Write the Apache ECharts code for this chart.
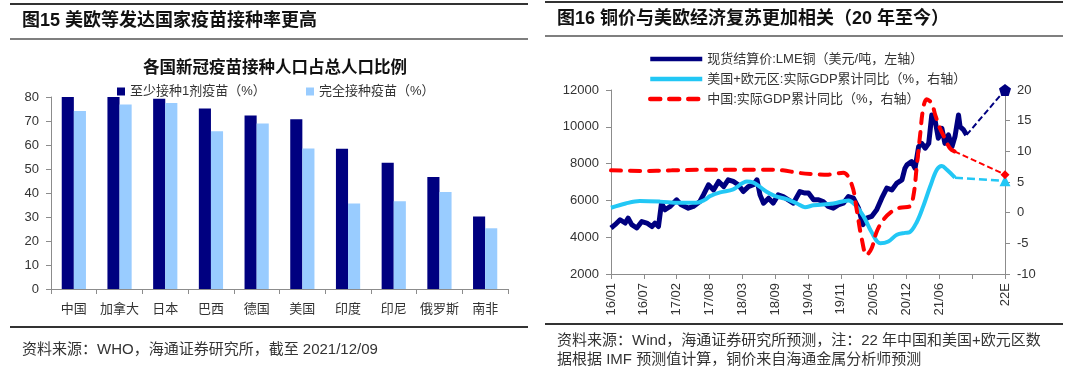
<!DOCTYPE html>
<html>
<head>
<meta charset="utf-8">
<script src="https://cdn.jsdelivr.net/npm/echarts@6/dist/echarts.min.js"></script>
<style>
html, body { margin: 0; padding: 0; background: #fff; }
#chart { width: 1080px; height: 375px; }
</style>
</head>
<body>
<div id="chart"></div>
<script>
// 图15：各国新冠疫苗接种人口占总人口比例
var countries = ['中国', '加拿大', '日本', '巴西', '德国', '美国', '印度', '印尼', '俄罗斯', '南非'];
var dose1 = [80, 80, 79.3, 75.2, 72.3, 70.7, 58.4, 52.6, 46.7, 30.2];
var fullDose = [74.2, 76.9, 77.5, 65.7, 69, 58.5, 35.6, 36.6, 40.4, 25.3];

// 图16：横轴以月计（16/01 = 0），每个刻度 6.5 个月
var xTickLabels = ['16/01', '16/07', '17/02', '17/08', '18/03', '18/09', '19/04', '19/11', '20/05', '20/12', '21/06', '', '22E'];
var monthsPerTick = 6.5;

var copperMonth = [0, 0.8, 1.8, 2.8, 3.4, 4.1, 5.1, 6.1, 7.1, 8.1, 8.7, 9.4, 10, 10.7, 11.7, 13, 13.9, 15.3, 16.3, 17.6,
  18.3, 19.3, 20.3, 21.3, 22.3, 23.2, 24.2, 25.2, 26.2, 27.2, 28.2, 28.9, 29.5, 30.2, 31.2, 32.1, 33.1, 34.1, 35.1, 36.1,
  37.4, 38.4, 39.1, 40.1, 41.1, 42, 43, 44, 45, 46, 47, 48, 49, 49.6, 49.9, 50.6, 51.6, 52.6, 53.6, 54.6,
  55.6, 56.6, 57.6, 58.2, 58.6, 59.5, 60.2, 60.9, 61.5, 62.2, 62.9, 63.5, 64.2, 64.8, 65.5, 66.1, 66.8, 67.5, 68.1, 68.8,
  69.1, 69.8, 70.4];
var copperPrice = [4500, 4680, 4950, 4770, 5040, 4680, 4500, 4850, 4770, 4580, 4770, 4580, 5850, 5490, 5670, 6030, 5760, 5580, 5670, 5940,
  6300, 6850, 6570, 7030, 6750, 7120, 7030, 6850, 6480, 6750, 6850, 7120, 6300, 5850, 6120, 5850, 6300, 6210, 6030, 5850,
  6480, 6400, 6400, 6030, 6030, 5940, 5670, 5580, 5760, 5850, 6210, 6120, 5580, 4950, 4680, 5040, 5130, 5490, 6120, 6670,
  6570, 6940, 7120, 7750, 7930, 8110, 7750, 8920, 9100, 8840, 9100, 10640, 10280, 9380, 9920, 9100, 9560, 8920, 9470, 10640,
  10010, 9830, 9560];

var chinaGdpMonth = [0, 6, 12, 18, 24, 30, 34, 37, 40, 43, 46, 47.7, 48.7, 49.6, 50.6, 51.6, 52.6, 53.9, 55.6, 57.2,
  59.1, 59.9, 60.5, 61.2, 61.8, 62.5, 63.5, 64.2, 65.1, 66.1, 67.1, 68];
var chinaGdp = [6.9, 6.8, 6.9, 7, 7, 7, 6.9, 6.5, 6.3, 6.2, 6.5, 4.5, 0.2, -4.1, -6.9, -5.8, -3.1, -1.2, 0.2, 0.8,
  1.0, 2.9, 7.3, 12.7, 17, 18.5, 17.8, 15.9, 13.8, 12.1, 10.5, 10];

var usEzGdpMonth = [0, 2.9, 5.7, 9.7, 13.6, 16.9, 18.6, 19.6, 21.6, 24.2, 26.9, 28.2, 29.5, 30.8, 32.5, 34.8, 36.8, 38.4,
  40.1, 44, 47, 48.3, 50, 51.6, 53.3, 54.9, 56.6, 58.2, 59.1, 60.5, 61.8, 63.2, 64.5, 65.5, 66.5, 68.1];
var usEzGdp = [0.8, 1.5, 1.9, 1.8, 1.6, 1.6, 2.1, 2.7, 3.3, 3.8, 5.1, 4.9, 4.2, 3.4, 2.7, 2.2, 1.5, 0.9,
  1.2, 1.5, 2.0, 1.3, -0.6, -3.2, -5.0, -4.7, -3.6, -3.3, -3.2, -1.6, 1.0, 4.3, 7.0, 7.6, 7.0, 5.7];

// 22E 预测值
var copper22E = 12000;
var chinaGdp22E = 6.2;
var usEzGdp22E = 5.2;

var FONT = "'Liberation Sans', 'Noto Sans CJK SC', sans-serif";
var AXIS_GRAY = '#8c8c8c';
var x22E = (xTickLabels.length - 1) * monthsPerTick;
var pentagon = 'path://M0,-10L9.5,-3.1L5.9,8.1L-5.9,8.1L-9.5,-3.1Z';

function zip(xs, ys) {
  return xs.map(function (x, i) { return [x, ys[i]]; });
}
function forecast(xs, ys, v, symbol, size) {
  return [
    { value: [xs[xs.length - 1], ys[ys.length - 1]], symbol: 'none' },
    { value: [x22E, v], symbol: symbol, symbolSize: size }
  ];
}
function plain(v) { return String(v); }

var chart = echarts.init(document.getElementById('chart'), null, { renderer: 'canvas' });

var lineStyleGray = { color: AXIS_GRAY, width: 1 };

var option = {
  animation: false,
  textStyle: { fontFamily: FONT },
  title: [
    { text: '图15 美欧等发达国家疫苗接种率更高', left: 22, top: 12, padding: 0,
      textStyle: { fontSize: 18, fontWeight: 'bold', color: '#111', fontFamily: FONT } },
    { text: '各国新冠疫苗接种人口占总人口比例', left: 143, top: 60, padding: 0,
      textStyle: { fontSize: 16.5, fontWeight: 'bold', color: '#111', fontFamily: FONT } },
    { text: '资料来源：WHO，海通证券研究所，截至 2021/12/09', left: 22, top: 342, padding: 0,
      textStyle: { fontSize: 15, fontWeight: 'normal', color: '#333', fontFamily: FONT } },
    { text: '图16 铜价与美欧经济复苏更加相关（20 年至今）', left: 557, top: 10, padding: 0,
      textStyle: { fontSize: 18, fontWeight: 'bold', color: '#111', fontFamily: FONT } },
    { text: '资料来源：Wind，海通证券研究所预测，注：22 年中国和美国+欧元区数\n据根据 IMF 预测值计算，铜价来自海通金属分析师预测', left: 557, top: 331, padding: 0,
      textStyle: { fontSize: 15, fontWeight: 'normal', color: '#333', lineHeight: 19, fontFamily: FONT } }
  ],
  graphic: [
    { type: 'line', shape: { x1: 10, y1: 4, x2: 528, y2: 4 }, style: { stroke: '#333', lineWidth: 2 } },
    { type: 'line', shape: { x1: 10, y1: 39, x2: 528, y2: 39 }, style: { stroke: '#555', lineWidth: 1.5 } },
    { type: 'line', shape: { x1: 10, y1: 327, x2: 528, y2: 327 }, style: { stroke: '#333', lineWidth: 2 } },
    { type: 'line', shape: { x1: 545, y1: 2, x2: 1063, y2: 2 }, style: { stroke: '#333', lineWidth: 2 } },
    { type: 'line', shape: { x1: 545, y1: 36, x2: 1063, y2: 36 }, style: { stroke: '#555', lineWidth: 1.5 } },
    { type: 'line', shape: { x1: 545, y1: 324, x2: 1063, y2: 324 }, style: { stroke: '#333', lineWidth: 2 } }
  ],
  legend: [
    { data: ['至少接种1剂疫苗（%）'], left: 117, top: 85, padding: 0, icon: 'rect', itemWidth: 8, itemHeight: 8,
      textStyle: { fontSize: 13, color: '#333', fontFamily: FONT } },
    { data: ['完全接种疫苗（%）'], left: 306, top: 85, padding: 0, icon: 'rect', itemWidth: 8, itemHeight: 8,
      textStyle: { fontSize: 13, color: '#333', fontFamily: FONT } },
    { data: ['现货结算价:LME铜（美元/吨，左轴）', '美国+欧元区:实际GDP累计同比（%，右轴）', '中国:实际GDP累计同比（%，右轴）'],
      orient: 'vertical', left: 648, top: 52, padding: 0, itemWidth: 52, itemHeight: 14, itemGap: 6,
      lineStyle: { width: 4.5 },
      itemStyle: { opacity: 0, borderWidth: 0 },
      textStyle: { fontSize: 13, color: '#333', lineHeight: 14, fontFamily: FONT } }
  ],
  grid: [
    { left: 51, right: 572, top: 97, bottom: 86 },
    { left: 611, right: 75, top: 90, bottom: 101 }
  ],
  xAxis: [
    { gridIndex: 0, type: 'category', data: countries,
      axisLine: { lineStyle: lineStyleGray },
      axisTick: { show: true, length: 5, lineStyle: lineStyleGray },
      axisLabel: { interval: 0, fontSize: 13, color: '#333', margin: 14 } },
    { gridIndex: 1, type: 'value', min: 0, max: x22E, interval: monthsPerTick,
      axisLine: { onZero: false, lineStyle: lineStyleGray },
      axisTick: { show: true, length: 5, lineStyle: lineStyleGray },
      splitLine: { show: false },
      axisLabel: { rotate: 90, fontSize: 13, color: '#333', margin: 9, showMinLabel: true, showMaxLabel: true,
        formatter: function (v) { var i = Math.round(v / monthsPerTick); return xTickLabels[i] || ''; } } }
  ],
  yAxis: [
    { gridIndex: 0, type: 'value', min: 0, max: 80, interval: 10,
      axisLine: { show: true, lineStyle: lineStyleGray },
      axisTick: { show: true, length: 5, lineStyle: lineStyleGray },
      splitLine: { show: false },
      axisLabel: { fontSize: 13, color: '#333', margin: 12, formatter: plain } },
    { gridIndex: 1, type: 'value', position: 'left', min: 2000, max: 12000, interval: 2000,
      axisLine: { show: true, lineStyle: lineStyleGray },
      axisTick: { show: true, length: 5, lineStyle: lineStyleGray },
      splitLine: { show: false },
      axisLabel: { fontSize: 13, color: '#333', margin: 12, formatter: plain } },
    { gridIndex: 1, type: 'value', position: 'right', min: -10, max: 20, interval: 5,
      axisLine: { show: true, lineStyle: lineStyleGray },
      axisTick: { show: true, length: 5, lineStyle: lineStyleGray },
      splitLine: { show: false },
      axisLabel: { fontSize: 13, color: '#333', margin: 12, formatter: plain } }
  ],
  series: [
    { name: '至少接种1剂疫苗（%）', type: 'bar', xAxisIndex: 0, yAxisIndex: 0, data: dose1,
      barGap: '0%', barCategoryGap: '47%', itemStyle: { color: '#000080' } },
    { name: '完全接种疫苗（%）', type: 'bar', xAxisIndex: 0, yAxisIndex: 0, data: fullDose,
      itemStyle: { color: '#99ccff' } },

    { name: '现货结算价:LME铜（美元/吨，左轴）', type: 'line', xAxisIndex: 1, yAxisIndex: 1,
      data: zip(copperMonth, copperPrice), symbol: 'none', color: '#000080',
      lineStyle: { width: 5, color: '#000080', join: 'round' } },
    { name: '美国+欧元区:实际GDP累计同比（%，右轴）', type: 'line', xAxisIndex: 1, yAxisIndex: 2,
      data: zip(usEzGdpMonth, usEzGdp), symbol: 'none', smooth: 0.35, color: '#22c7f5',
      lineStyle: { width: 4, color: '#22c7f5' } },
    { name: '中国:实际GDP累计同比（%，右轴）', type: 'line', xAxisIndex: 1, yAxisIndex: 2,
      data: zip(chinaGdpMonth, chinaGdp), symbol: 'none', smooth: 0.35, color: '#ff0000',
      lineStyle: { width: 4, color: '#ff0000', type: [10, 9], cap: 'round' } },

    { name: '铜价预测', type: 'line', xAxisIndex: 1, yAxisIndex: 1, showSymbol: true,
      data: forecast(copperMonth, copperPrice, copper22E, pentagon, 12),
      itemStyle: { color: '#000080' }, lineStyle: { width: 2, color: '#000080', type: [6, 3] } },
    { name: '美欧预测', type: 'line', xAxisIndex: 1, yAxisIndex: 2, showSymbol: true,
      data: forecast(usEzGdpMonth, usEzGdp, usEzGdp22E, 'triangle', 11),
      itemStyle: { color: '#22c7f5' }, lineStyle: { width: 2.5, color: '#22c7f5', type: [8, 4] } },
    { name: '中国预测', type: 'line', xAxisIndex: 1, yAxisIndex: 2, showSymbol: true,
      data: forecast(chinaGdpMonth, chinaGdp, chinaGdp22E, 'diamond', 9),
      itemStyle: { color: '#ff0000' }, lineStyle: { width: 2, color: '#ff0000', type: [6, 3] } }
  ]
};

chart.setOption(option);
</script>
</body>
</html>
